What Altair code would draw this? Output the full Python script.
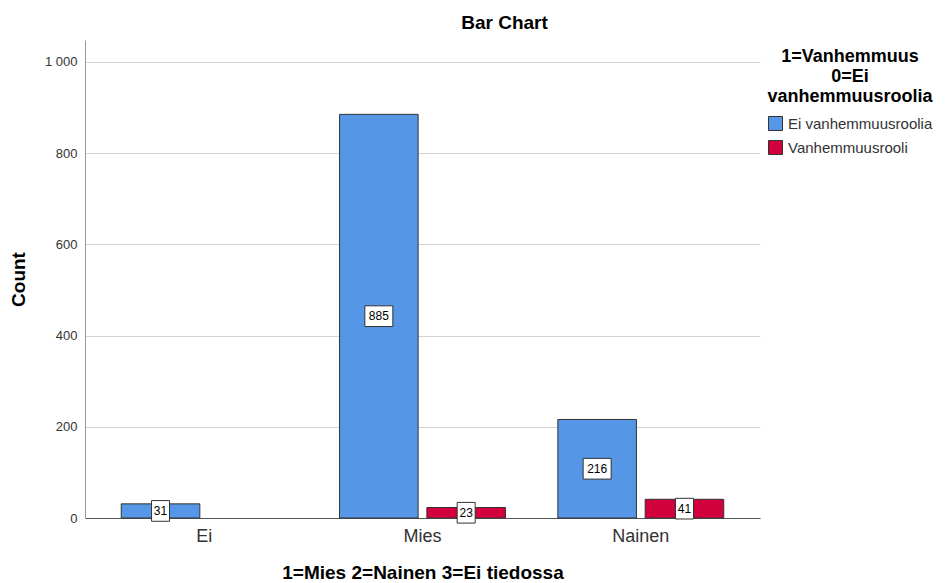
import altair as alt
import pandas as pd

groups = ["Ei", "Mies", "Nainen"]
roles = ["Ei vanhemmuusroolia", "Vanhemmuusrooli"]
colors = ["#5596E6", "#D2003C"]
counts_ei = [31, 0]
counts_mies = [885, 23]
counts_nainen = [216, 41]

rows = []
for g, cs in zip(groups, [counts_ei, counts_mies, counts_nainen]):
    for r, c in zip(roles, cs):
        if c > 0:
            rows.append({"group": g, "role": r, "count": c})
df = pd.DataFrame(rows)

FONT = "Liberation Sans"

x_enc = alt.X("group:N", sort=groups,
              scale=alt.Scale(paddingOuter=0.046, paddingInner=0),
              axis=alt.Axis(title="1=Mies 2=Nainen 3=Ei tiedossa", labelAngle=0,
                            labelFontSize=18, labelColor="#333333", labelPadding=9,
                            ticks=False, domainColor="#555555", titleFontSize=19,
                            titleFontWeight="bold", titlePadding=18, titleColor="#000000",
                            grid=False))
xo_enc = alt.XOffset("role:N", scale=alt.Scale(domain=roles, paddingInner=0.1, paddingOuter=0.3))

base = alt.Chart(df)

bars = base.mark_bar(stroke="#333333", strokeWidth=1).encode(
    x=x_enc,
    xOffset=xo_enc,
    y=alt.Y("count:Q", scale=alt.Scale(domain=[0, 1048], nice=False),
            axis=alt.Axis(title="Count", values=[0, 200, 400, 600, 800, 1000],
                          labelExpr="replace(format(datum.value, ','), ',', ' ')",
                          labelFontSize=13, labelColor="#333333", ticks=False, labelPadding=8,
                          domainColor="#999999", gridColor="#d4d4d4", titleFontSize=19,
                          titleFontWeight="bold", titlePadding=16, titleColor="#000000")),
    color=alt.Color("role:N", scale=alt.Scale(domain=roles, range=colors),
                    legend=alt.Legend(title=["1=Vanhemmuus", "0=Ei", "vanhemmuusroolia"],
                                      orient="none", legendX=682, legendY=8,
                                      titleFontSize=18, titleFontWeight="bold",
                                      titleAlign="center", titleAnchor="middle",
                                      titleColor="#000000", titleLineHeight=20,
                                      labelFontSize=15, labelColor="#333333",
                                      symbolType="square", symbolSize=196,
                                      symbolStrokeColor="#333333", symbolStrokeWidth=1,
                                      rowPadding=5, titlePadding=10, labelOffset=5)),
)

mid = base.transform_calculate(mid="datum.count / 2", lab="toString(datum.count)")

box2 = mid.transform_filter("length(datum.lab) < 3").mark_point(
    shape="M-1,-1.15L1,-1.15L1,1.15L-1,1.15Z", size=324, filled=True,
    fill="white", stroke="#333333", strokeWidth=1, opacity=1
).encode(x=alt.X("group:N", sort=groups), xOffset=xo_enc, y="mid:Q")

box3 = mid.transform_filter("length(datum.lab) >= 3").mark_point(
    shape="M-1,-0.74L1,-0.74L1,0.74L-1,0.74Z", size=784, filled=True,
    fill="white", stroke="#333333", strokeWidth=1, opacity=1
).encode(x=alt.X("group:N", sort=groups), xOffset=xo_enc, y="mid:Q")

texts = mid.mark_text(fontSize=12, font=FONT, color="#000000", baseline="middle").encode(
    x=alt.X("group:N", sort=groups), xOffset=xo_enc, y="mid:Q", text="lab:N")

chart = alt.layer(bars, box2, box3, texts).properties(
    width=675, height=478,
    title=alt.TitleParams("Bar Chart", fontSize=19, fontWeight="bold", font=FONT,
                          color="#000000", anchor="middle", dx=82, offset=7),
    autosize=alt.AutoSizeParams(type="none"),
    padding={"left": 77, "top": 32, "right": 182, "bottom": 66},
).configure(font=FONT).configure_view(stroke=None)

chart.save("out.html", embed_options={"renderer": "svg", "actions": False})
